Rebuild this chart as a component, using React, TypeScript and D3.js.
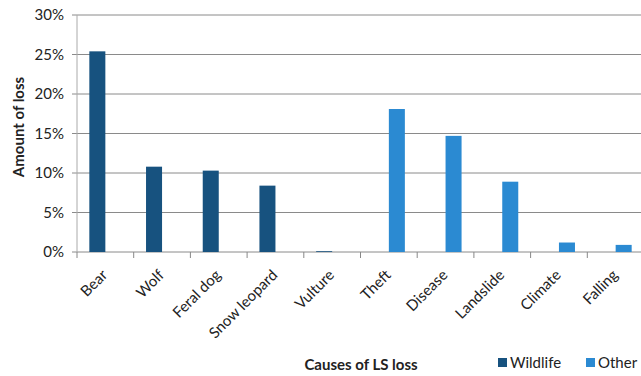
import React from "react";
import * as d3 from "d3";

const categories = ["Bear", "Wolf", "Feral dog", "Snow leopard", "Vulture", "Theft", "Disease", "Landslide", "Climate", "Falling"];
const seriesNames = ["Wildlife", "Other"];
const wildlifeValues = [25.4, 10.8, 10.3, 8.4, 0.1, 0, 0, 0, 0, 0];
const otherValues = [0, 0, 0, 0, 0, 18.1, 14.7, 8.9, 1.2, 0.9];
const yTicks = [0, 5, 10, 15, 20, 25, 30];
const colors = ["#17527f", "#2b8ad2"];

export default function App() {
  const W = 641, H = 376;
  const left = 77, right = 644, top = 15, bottom = 252;
  const x = d3.scaleBand<string>().domain(categories).range([left, right]).paddingInner(0).paddingOuter(0);
  const xs = d3.scaleBand<string>().domain(seriesNames).range([0, x.bandwidth()]).paddingInner(0).paddingOuter(0.77);
  const y = d3.scaleLinear().domain([0, 30]).range([bottom, top]);
  const series = [wildlifeValues, otherValues];
  const font = "Lato, 'Open Sans', sans-serif";
  return (
    <svg width={W} height={H} style={{ position: "absolute", left: 0, top: 0, background: "#fff" }} fontFamily={font}>
      {yTicks.map((t) => (
        <g key={t}>
          <line x1={left - 5} x2={right} y1={y(t)} y2={y(t)} stroke="#8a8a8a" strokeWidth={1} />
          <text x={64} y={y(t)} dy="0.35em" textAnchor="end" fontSize={15} fill="#222">{t}%</text>
        </g>
      ))}
      <line x1={left} x2={left} y1={top} y2={bottom} stroke="#aaa" />
      {d3.range(categories.length + 1).map((i) => {
        const xx = left + i * x.step();
        return <line key={i} x1={xx} x2={xx} y1={bottom} y2={bottom + 6} stroke="#888" />;
      })}
      {series.map((vals, si) =>
        vals.map((v, i) =>
          v > 0 ? (
            <rect key={si + "-" + i}
              x={(x(categories[i]) as number) + (xs(seriesNames[si]) as number)}
              y={y(v)} width={xs.bandwidth()} height={bottom - y(v)} fill={colors[si]} />
          ) : null
        )
      )}
      {categories.map((c) => {
        const cx = (x(c) as number) + x.bandwidth() / 2;
        return (
          <text key={c} transform={`translate(${cx + 3},${bottom + 24}) rotate(-45)`} textAnchor="end" fontSize={15} fill="#222">{c}</text>
        );
      })}
      <text transform={`translate(24,127) rotate(-90)`} textAnchor="middle" fontSize={15} fontWeight="bold" fill="#222">Amount of loss</text>
      <text x={361} y={370} textAnchor="middle" fontSize={15} fontWeight="bold" fill="#222">Causes of LS loss</text>
      {seriesNames.map((s, i) => (
        <g key={s} transform={`translate(${498 + i * 88},363)`}>
          <rect x={0} y={-5} width={9} height={9} fill={colors[i]} />
          <text x={12} y={0} dy="0.35em" fontSize={15} fill="#222">{s}</text>
        </g>
      ))}
    </svg>
  );
}
